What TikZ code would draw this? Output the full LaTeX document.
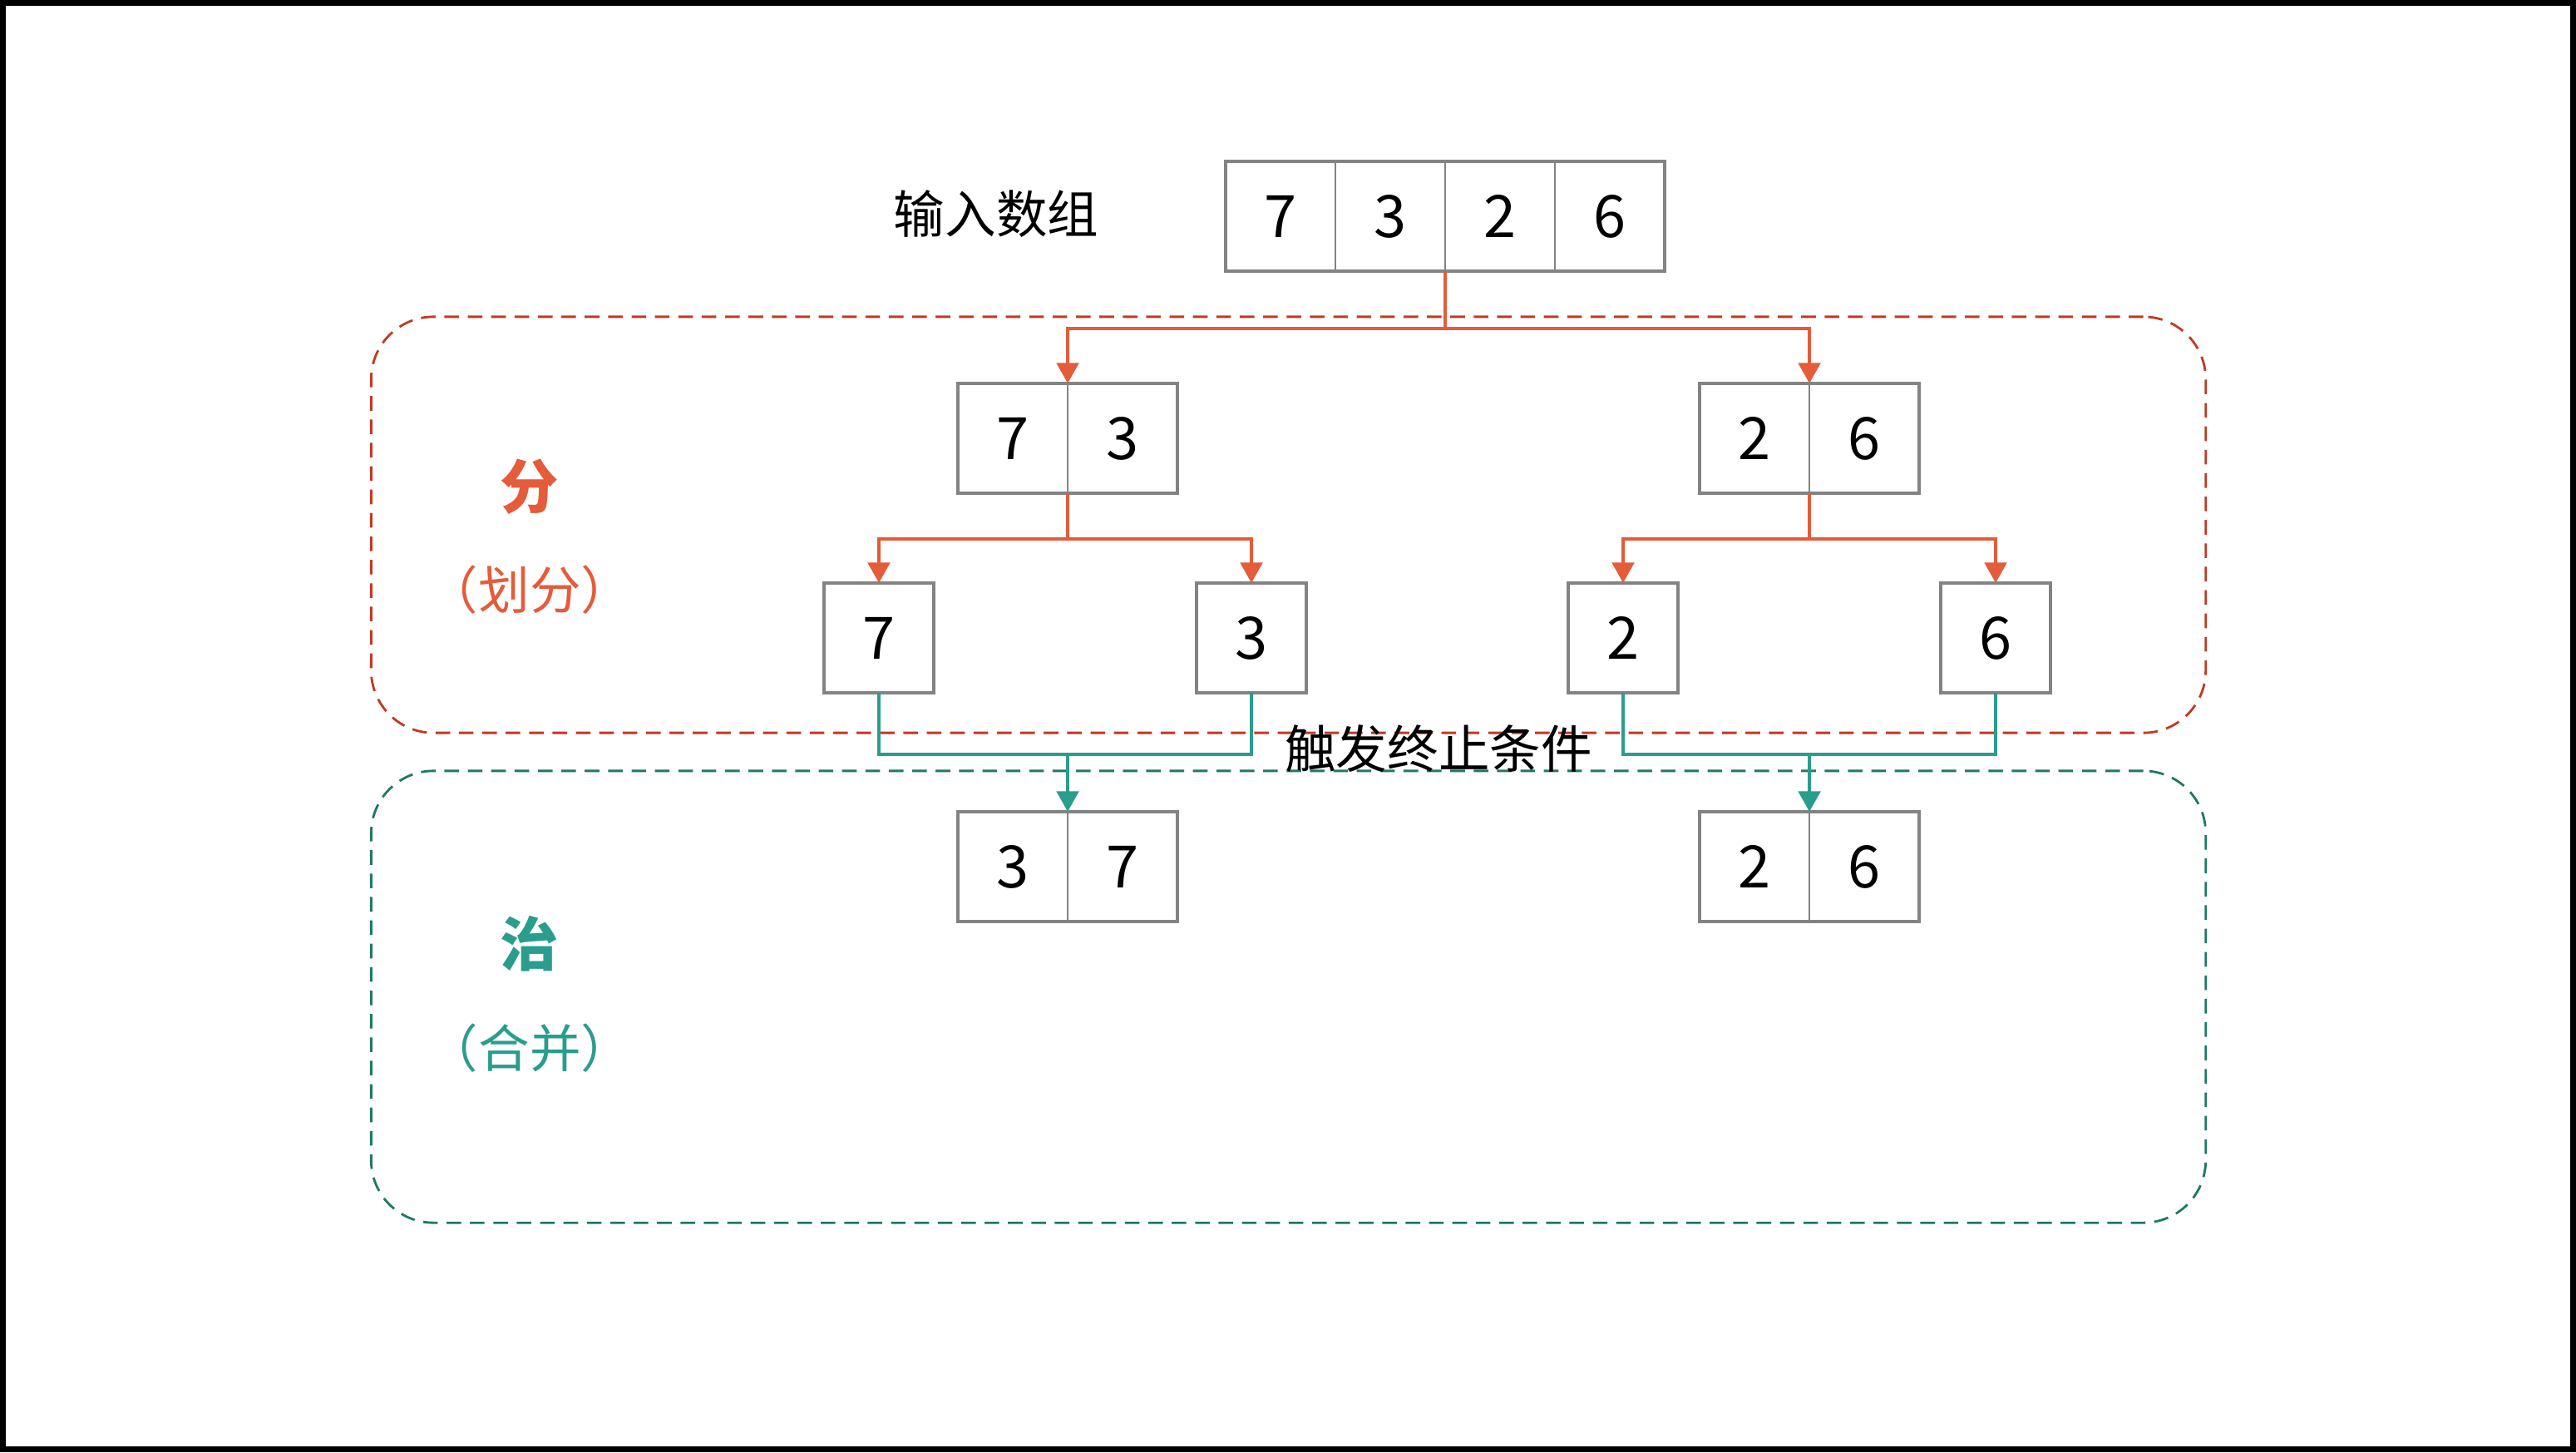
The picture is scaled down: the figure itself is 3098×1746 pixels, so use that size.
\documentclass[tikz,border=0pt]{standalone}
\usepackage{fontspec}
\setmainfont{Noto Sans CJK SC}
\usepackage{xcolor}
\usepackage{tikz}
\usetikzlibrary{arrows.meta,positioning,fit,calc}
\definecolor{cellgray}{HTML}{838383}
\definecolor{splitred}{HTML}{E45C3A}
\definecolor{zonered}{HTML}{C03A22}
\definecolor{mergeteal}{HTML}{2A9D8C}
\definecolor{zoneteal}{HTML}{1F7866}
\newcommand{\numfont}{\fontsize{20}{24}\selectfont}
\newcommand{\cjkfont}{\fontsize{17.5}{21}\selectfont}
\tikzset{
  cell/.style={rectangle, draw=cellgray, line width=0.6pt, fill=white, outer sep=0pt,
               minimum width=1.32cm, minimum height=1.32cm, inner sep=0pt, font=\numfont},
  rim/.style={rectangle, draw=cellgray, line width=1.1pt, inner sep=0pt, outer sep=0pt},
  zone/.style={rectangle, rounded corners=0.75cm, line width=0.8pt,
               dash pattern=on 5pt off 3pt, inner sep=0pt},
  lbl/.style={font=\cjkfont, inner sep=0pt},
  split/.style={-{Triangle[length=7pt,width=7.5pt]}, draw=splitred, line width=1.2pt},
  mergeline/.style={draw=mergeteal, line width=1.2pt},
  merge/.style={mergeline, -{Triangle[length=7pt,width=7.5pt]}},
}
\begin{document}
\begin{tikzpicture}[x=0.01cm, y=-0.01cm]
\useasboundingbox (0,0) rectangle (3098,1746);
\draw[line width=0.07cm] (3.5,3.5) rectangle (3094.5,1742.5);

% zones
\node[zone, draw=zonered, minimum width=22.05cm, minimum height=5cm] (divzone) at (1549.5,631) {};
\node[zone, draw=zoneteal, minimum width=22.05cm, minimum height=5.43cm] (conzone) at (1549.5,1198.5) {};

\node[lbl, text=splitred, font=\fontsize{20}{24}\selectfont\bfseries] (divhd) at (637,585) {分};
\node[lbl, text=splitred] (divsub) at (637,709) {（划分）};
\node[lbl, text=mergeteal, font=\fontsize{20}{24}\selectfont\bfseries] (conhd) at (637,1135) {治};
\node[lbl, text=mergeteal] (consub) at (637,1260) {（合并）};

% input array
\node[lbl] (intitle) at (1198,257) {输入数组};
\node[cell] (in1) at (1540,260) {7};
\node[cell, right=0pt of in1] (in2) {3};
\node[cell, right=0pt of in2] (in3) {2};
\node[cell, right=0pt of in3] (in4) {6};
\node[rim, fit=(in1)(in4)] {};

% split level 1
\node[cell] (l1) at (1218,527) {7};
\node[cell, right=0pt of l1] (l2) {3};
\node[rim, fit=(l1)(l2)] {};
\node[cell] (r1) at (2110,527) {2};
\node[cell, right=0pt of r1] (r2) {6};
\node[rim, fit=(r1)(r2)] {};

% split level 2
\node[cell, line width=1.1pt] (a7) at (1057,767) {7};
\node[cell, line width=1.1pt] (a3) at (1505,767) {3};
\node[cell, line width=1.1pt] (a2) at (1952,767) {2};
\node[cell, line width=1.1pt] (a6) at (2400,767) {6};

% merged
\node[cell] (m3) at (1218,1042) {3};
\node[cell, right=0pt of m3] (m7) {7};
\node[rim, fit=(m3)(m7)] {};
\node[cell] (n2) at (2110,1042) {2};
\node[cell, right=0pt of n2] (n6) {6};
\node[rim, fit=(n2)(n6)] {};

% split arrows
\coordinate (k0) at ($(in2.south east)+(0,69)$);
\draw[split] (in2.south east) -- (k0) -| (l1.north east);
\draw[split] (k0) -| (r1.north east);
\coordinate (k1) at ($(l1.south east)+(0,55)$);
\draw[split] (l1.south east) -- (k1) -| (a7.north);
\draw[split] (k1) -| (a3.north);
\coordinate (k2) at ($(r1.south east)+(0,55)$);
\draw[split] (r1.south east) -- (k2) -| (a2.north);
\draw[split] (k2) -| (a6.north);

% merge arrows
\coordinate (j1) at ($(a7.south)+(0,74)$);
\draw[mergeline] (a7.south) -- (j1) -| (a3.south);
\draw[merge] (j1 -| m3.north east) -- (m3.north east);
\coordinate (j2) at ($(a2.south)+(0,74)$);
\draw[mergeline] (a2.south) -- (j2) -| (a6.south);
\draw[merge] (j2 -| n2.north east) -- (n2.north east);

\node[lbl] (stop) at (1730,900) {触发终止条件};
\end{tikzpicture}
\end{document}
